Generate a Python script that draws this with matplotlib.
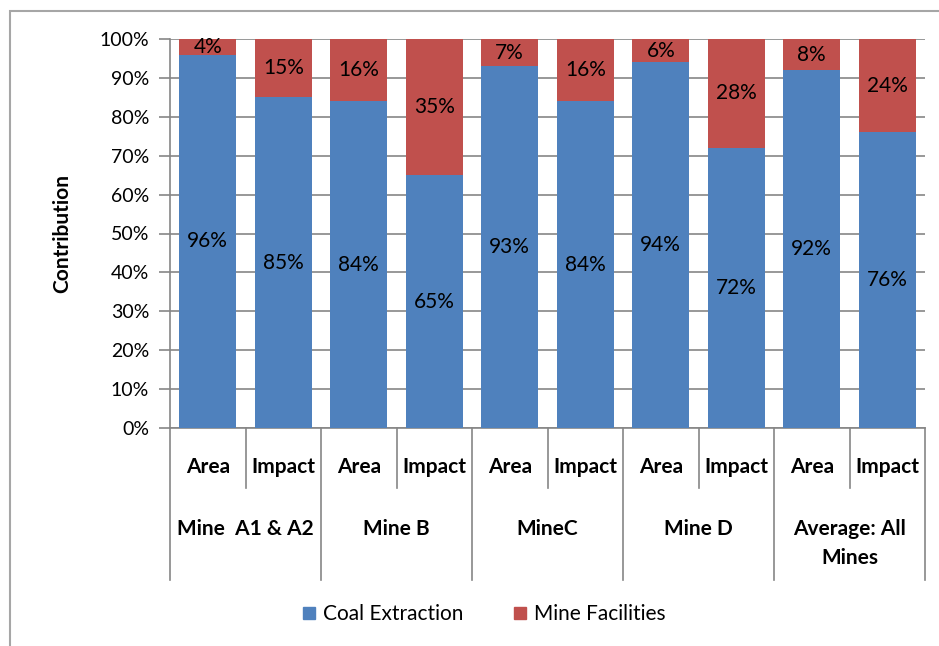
import numpy as np
import matplotlib.pyplot as plt
from matplotlib.patches import Rectangle
from matplotlib.lines import Line2D

plt.rcParams['font.family'] = ['Lato', 'DejaVu Sans']

# data
mines = ['Mine  A1 & A2', 'Mine B', 'MineC', 'Mine D', 'Average: All\nMines']
kinds = ['Area', 'Impact']
coal = [96, 85, 84, 65, 93, 84, 94, 72, 92, 76]
facilities = [4, 15, 16, 35, 7, 16, 6, 28, 8, 24]

blue = '#4F81BD'
red = '#C0504D'
grey = '#868686'

fig = plt.figure(figsize=(9.39, 6.46), dpi=100)
ax = fig.add_axes([170/939, 1 - 428/646, 755/939, 389/646])

n = len(coal)
x = np.arange(n) + 0.5
coal_f = np.array(coal) / 100
fac_f = np.array(facilities) / 100

ax.bar(x, coal_f, width=0.76, color=blue, zorder=3)
ax.bar(x, fac_f, width=0.76, bottom=coal_f, color=red, zorder=3)

for xi, c, f in zip(x, coal_f, fac_f):
    ax.text(xi, c / 2, f'{c*100:.0f}%', ha='center', va='center', fontsize=15, zorder=4)
    ax.text(xi, c + f / 2, f'{f*100:.0f}%', ha='center', va='center', fontsize=15, zorder=4)

ax.set_xlim(0, n)
ax.set_ylim(0, 1)
ax.set_yticks(np.arange(0, 1.01, 0.1))
ax.set_yticklabels([f'{v}%' for v in range(0, 101, 10)], fontsize=14)
ax.yaxis.grid(True, color=grey, linewidth=1.2, zorder=0)
ax.tick_params(axis='y', length=8, width=1.2, color=grey, pad=7)
ax.set_xticks([])
for s in ['top', 'right']:
    ax.spines[s].set_visible(False)
ax.spines['left'].set_color(grey)
ax.spines['left'].set_linewidth(1.2)
ax.spines['bottom'].set_color(grey)
ax.spines['bottom'].set_linewidth(1.2)
ax.set_ylabel('Contribution', fontsize=15, fontweight='bold', labelpad=20)

# two-level category axis
trans = ax.get_xaxis_transform()
for i in range(n + 1):
    y_end = -0.391 if i % 2 == 0 else -0.154
    ax.add_line(Line2D([i, i], [0, y_end], transform=trans, color=grey,
                       linewidth=1.2, clip_on=False))
for i, xi in enumerate(x):
    ax.text(xi, -0.10, kinds[i % 2], transform=trans, ha='center', va='center',
            fontsize=15, fontweight='bold')
for g, name in enumerate(mines):
    ax.text(2 * g + 1, -0.233, name, transform=trans, ha='center', va='top',
            fontsize=15, fontweight='bold', linespacing=1.6)

# legend
handles = [Line2D([], [], marker='s', linestyle='none', markersize=8, color=blue),
           Line2D([], [], marker='s', linestyle='none', markersize=8, color=red)]
fig.legend(handles, ['Coal Extraction', 'Mine Facilities'], loc='center',
           bbox_to_anchor=(482/939, 1 - 614/646), ncol=2, frameon=False,
           fontsize=15, handletextpad=0.2, handlelength=1.0, columnspacing=2.2)

# outer chart border
fig.add_artist(Rectangle((10/939, -0.05), 1.0, 1 - 11/646 + 0.05, transform=fig.transFigure,
                         fill=False, edgecolor='#A6A6A6', linewidth=1.5))

fig.savefig('out.png', dpi=100)
